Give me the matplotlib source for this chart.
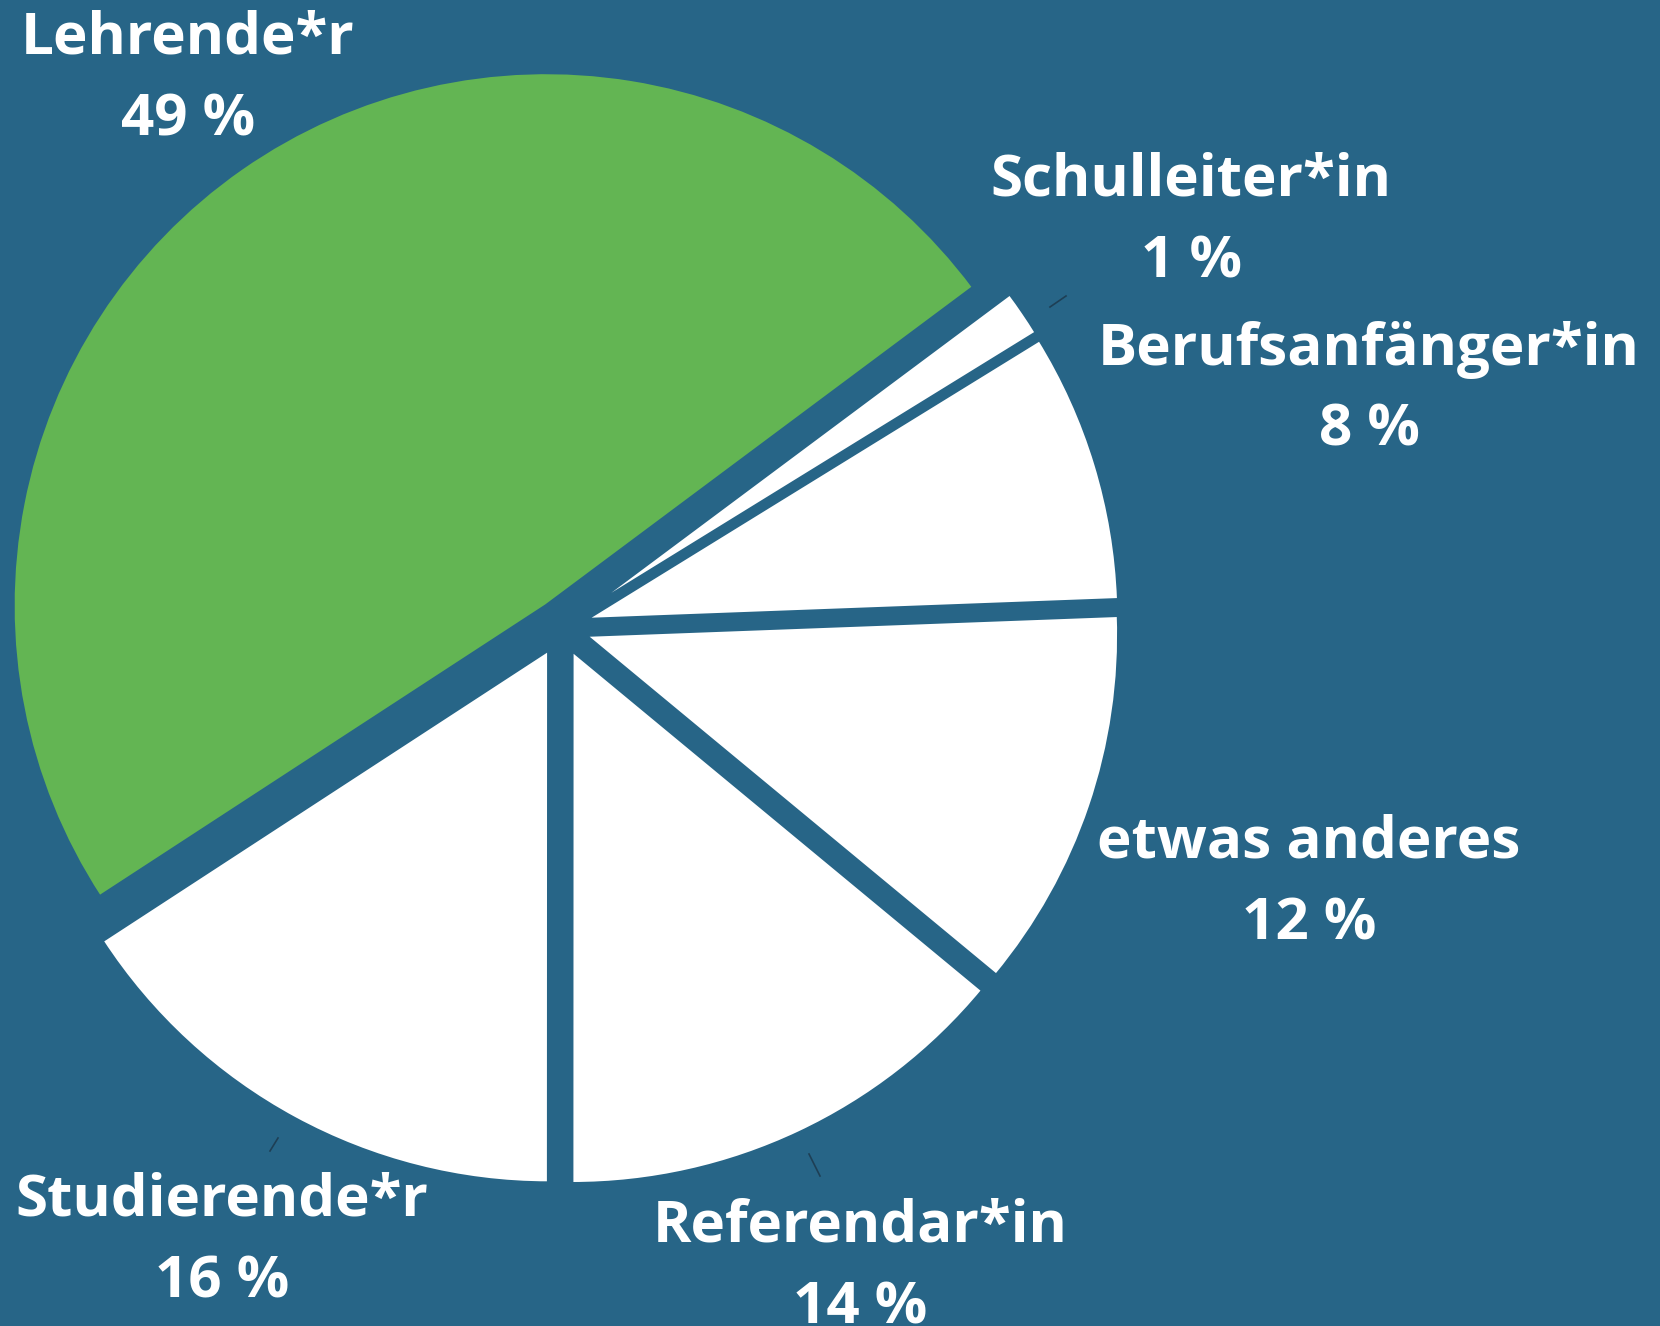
import matplotlib.pyplot as plt
import numpy as np

plt.rcParams['font.family'] = ['Open Sans', 'DejaVu Sans']

# data
labels = ['Schulleiter*in', 'Berufsanfänger*in', 'etwas anderes',
          'Referendar*in', 'Studierende*r', 'Lehrende*r']
percent = [1, 8, 12, 14, 16, 49]                 # printed labels
shares = [1.4, 8.2, 11.6, 14.0, 15.8, 49.0]      # wedge sizes as drawn
colors = ['white', 'white', 'white', 'white', 'white', '#63b553']

# label centres in image pixels (x, y of first line)
label_pos = [(1191, 181), (1369, 350), (1309, 843),
             (860, 1227), (222, 1201), (188, 39)]
# short leader strokes (image pixels)
leaders = [((1050, 307), (1066, 296)),
           ((270, 1151), (278, 1138)),
           ((809, 1154), (820, 1176))]

bg = '#276587'
W, H = 1660, 1326

fig = plt.figure(figsize=(W / 100, H / 100), dpi=100)
fig.patch.set_facecolor(bg)
ax = fig.add_axes([0, 0, 1, 1])
ax.set_facecolor(bg)

cx, cy, R, e = 561, 627, 533, 26
ax.pie(shares, colors=colors, radius=R, center=(cx, H - cy),
       startangle=36.7, counterclock=False, explode=[e] * len(shares),
       wedgeprops=dict(edgecolor=bg, linewidth=2.2))

for (x0, y0), (x1, y1) in leaders:
    ax.plot([x0, x1], [H - y0, H - y1], color='#1e3f55', lw=1.2)

for lab, val, (x, y) in zip(labels, percent, label_pos):
    ax.text(x, H - y, lab, ha='center', va='center', color='white',
            fontsize=42, fontweight='bold')
    ax.text(x, H - y - 81, f'{val} %', ha='center', va='center',
            color='white', fontsize=42, fontweight='bold')

ax.set_xlim(0, W)
ax.set_ylim(0, H)
ax.set_aspect('equal')
ax.axis('off')

fig.savefig('out.png', dpi=100, facecolor=bg)
